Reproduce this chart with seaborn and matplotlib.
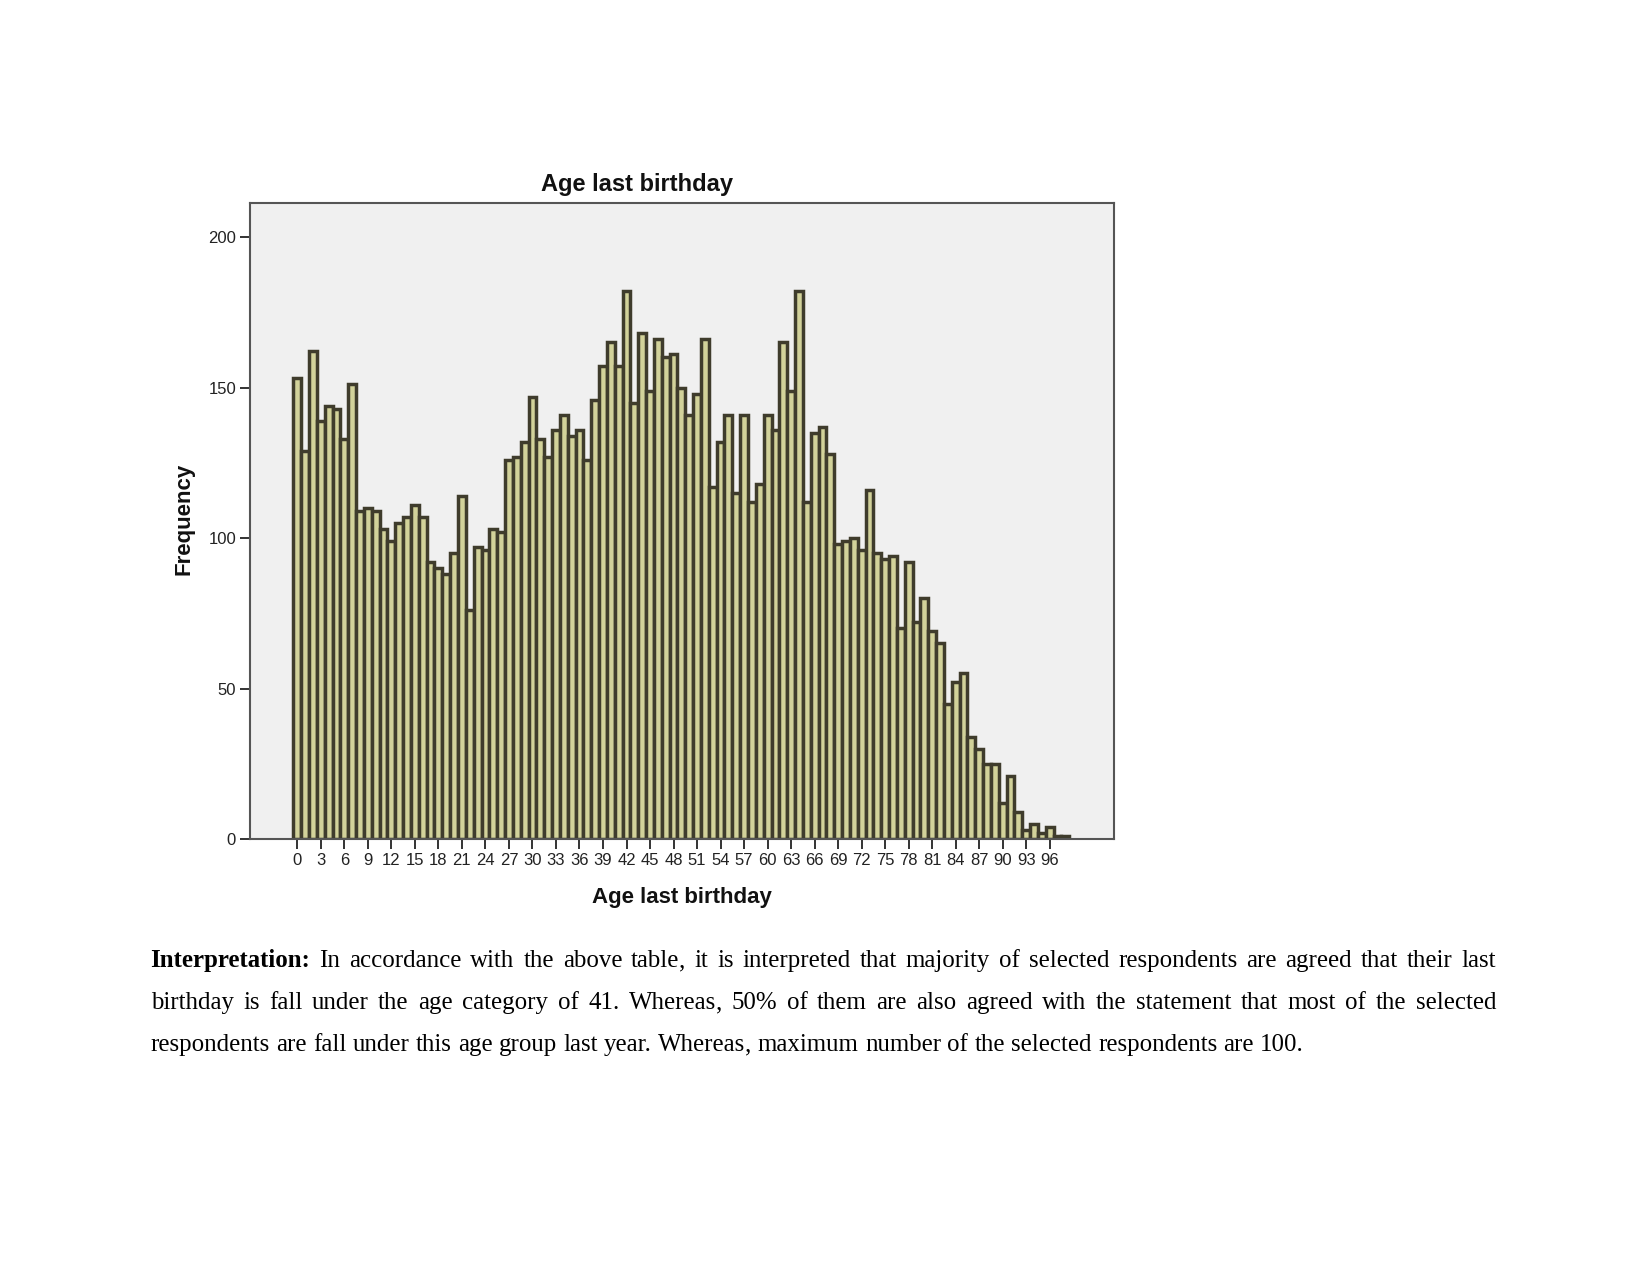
import numpy as np
import pandas as pd
import seaborn as sns
import matplotlib.pyplot as plt

# ---------------- data ----------------
ages = list(range(0, 99))
freq = [
    153, 129, 162, 139, 144, 143, 133, 151, 109, 110,   # 0-9
    109, 103, 99, 105, 107, 111, 107, 92, 90, 88,       # 10-19
    95, 114, 76, 97, 96, 103, 102, 126, 127, 132,       # 20-29
    147, 133, 127, 136, 141, 134, 136, 126, 146, 157,   # 30-39
    165, 157, 182, 145, 168, 149, 166, 160, 161, 150,   # 40-49
    141, 148, 166, 117, 132, 141, 115, 141, 112, 118,   # 50-59
    141, 136, 165, 149, 182, 112, 135, 137, 128, 98,    # 60-69
    99, 100, 96, 116, 95, 93, 94, 70, 92, 72,           # 70-79
    80, 69, 65, 45, 52, 55, 34, 30, 25, 25,             # 80-89
    12, 21, 9, 3, 5, 2, 4, 1, 1,                        # 90-98
]
x_ticks = list(range(0, 97, 3))
y_ticks = [0, 50, 100, 150, 200]
title_text = "Age last birthday"
x_label = "Age last birthday"
y_label = "Frequency"

para_lines = [
    ["Interpretation:", "In", "accordance", "with", "the", "above", "table,", "it", "is", "interpreted",
     "that", "majority", "of", "selected", "respondents", "are", "agreed", "that", "their", "last"],
    ["birthday", "is", "fall", "under", "the", "age", "category", "of", "41.", "Whereas,", "50%", "of",
     "them", "are", "also", "agreed", "with", "the", "statement", "that", "most", "of", "the", "selected"],
    ["respondents", "are", "fall", "under", "this", "age", "group", "last", "year.", "Whereas,", "maximum",
     "number", "of", "the", "selected", "respondents", "are", "100."],
]

# ---------------- figure ----------------
sns.set_style("white")
plt.rcParams['font.family'] = ['Liberation Sans', 'DejaVu Sans']

W, H = 1651, 1275
fig = plt.figure(figsize=(W / 100, H / 100), dpi=100)
fig.patch.set_facecolor('white')

ax_l, ax_r, ax_t, ax_b = 250, 1114, 203, 839
ax = fig.add_axes([ax_l / W, 1 - ax_b / H, (ax_r - ax_l) / W, (ax_b - ax_t) / H])
ax.set_facecolor('#f0f0f0')

df = pd.DataFrame({"age": ages, "freq": freq})
sns.histplot(data=df, x="age", weights="freq", discrete=True, shrink=1.0,
             color="#d2d29a", edgecolor="#3f3c2c", linewidth=2.5, alpha=1.0, ax=ax)

ax.set_xlim(-6.04, 104.2)
ax.set_ylim(0, 211.3)
ax.set_xticks(x_ticks)
ax.set_xticklabels([str(t) for t in x_ticks])
ax.set_yticks(y_ticks)
ax.set_yticklabels([str(t) for t in y_ticks])
ax.tick_params(axis='both', which='major', direction='out', length=7, width=1.4,
               color='#333333', labelsize=12, labelcolor='#222222', pad=3,
               bottom=True, left=True)
for sp in ax.spines.values():
    sp.set_color('#555555')
    sp.set_linewidth(1.5)
    sp.set_visible(True)

ax.set_xlabel("")
ax.set_ylabel("")
fig.text(682 / W, 1 - 898 / H, x_label, ha='center', va='center',
         fontsize=16, fontweight='bold', color='#111111')
fig.text(184 / W, 1 - 519 / H, y_label, ha='center', va='center', rotation=90,
         fontsize=16, fontweight='bold', color='#111111')
fig.text(637 / W, 1 - 185 / H, title_text, ha='center', va='center',
         fontsize=17, fontweight='bold', color='#111111')

# ---------------- justified paragraph ----------------
serif = ['Liberation Serif', 'DejaVu Serif']
fs = 17.9
left_px, right_px = 150.6, 1496.0
baselines = [967, 1009, 1051]

fig.canvas.draw()
renderer = fig.canvas.get_renderer()


def make(word, y, bold=False):
    return fig.text(0, y, word, fontsize=fs, family=serif,
                    fontweight='bold' if bold else 'normal', ha='left', va='baseline',
                    color='black')


for li, words in enumerate(para_lines):
    y = 1 - baselines[li] / H
    items = []  # list of (list of (text, width))
    for wi, wd in enumerate(words):
        bold = (li == 0 and wi == 0)
        parts = []
        if wd.endswith(','):
            t1 = make(wd[:-1], y, bold)
            t2 = make(',', y, bold)
            parts = [t1, t2]
        else:
            parts = [make(wd, y, bold)]
        ws = [p.get_window_extent(renderer).width for p in parts]
        items.append(list(zip(parts, ws)))
    widths = [sum(w for _, w in it) for it in items]
    if li < len(para_lines) - 1:
        gap = (right_px - left_px - sum(widths)) / (len(words) - 1)
    else:
        sp = fig.text(0, 0, "a a", fontsize=fs, family=serif)
        sp2 = fig.text(0, 0, "aa", fontsize=fs, family=serif)
        gap = sp.get_window_extent(renderer).width - sp2.get_window_extent(renderer).width
        sp.remove(); sp2.remove()
    x = left_px
    for it, w in zip(items, widths):
        xx = x
        for t, pw in it:
            t.set_x(xx / W)
            xx += pw
        x += w + gap

fig.savefig("out.png", dpi=100, facecolor='white')
